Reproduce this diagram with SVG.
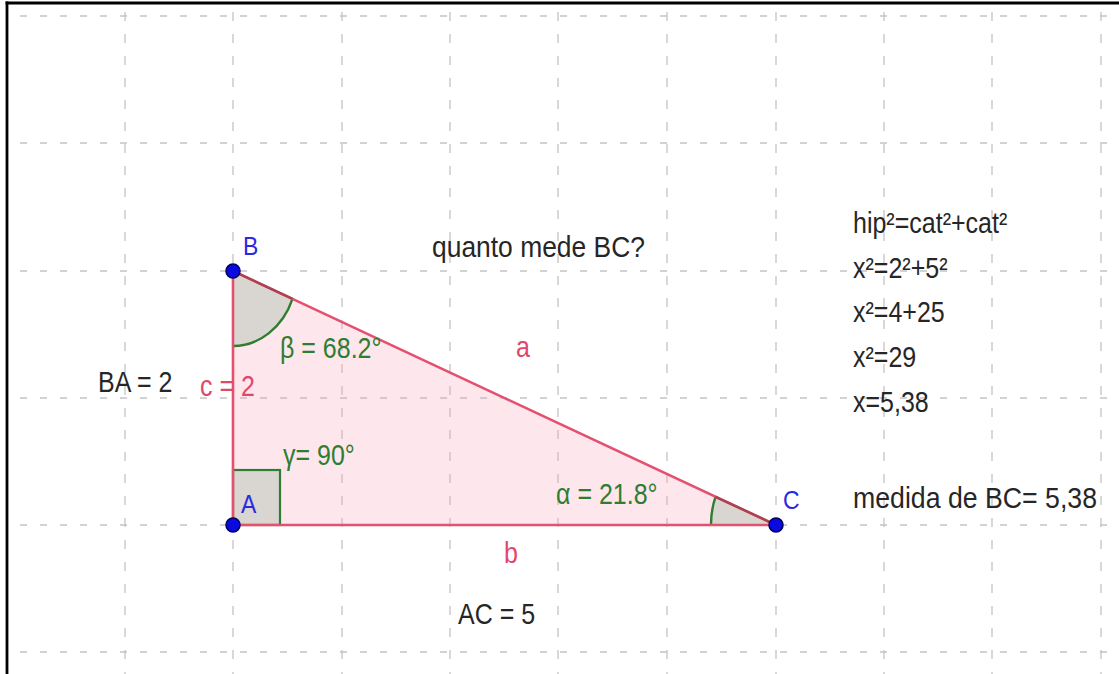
<svg xmlns="http://www.w3.org/2000/svg" width="1119" height="674" viewBox="0 0 1119 674">
<style>
text{font-family:"Liberation Sans",Arial,sans-serif;font-size:25px}
.dark{fill:#262626}
.pink{fill:#e0476c}
.green{fill:#2f7d32}
.blue{fill:#2a2ae0;font-size:23px}
.gh{stroke:#c4c4c4;stroke-width:1.3;stroke-dasharray:7 13;fill:none}
.gv{stroke:#c4c4c4;stroke-width:1.3;stroke-dasharray:9 13;fill:none}
.edge{stroke:#e4506f;stroke-width:2.6;fill:none;stroke-linecap:round}
.sector{fill:#d9d5d0;stroke:none}
.arc{stroke:#2f7d32;stroke-width:2.4;fill:none}
.pt{fill:#0a0ae0;stroke:#00005a;stroke-width:1.5}
</style>
<rect x="0" y="0" width="1119" height="674" fill="#ffffff"/>
<g id="grid">
<line class="gh" x1="20" y1="16" x2="1119" y2="16"/>
<line class="gh" x1="20" y1="143" x2="1119" y2="143"/>
<line class="gh" x1="20" y1="271" x2="1119" y2="271"/>
<line class="gh" x1="20" y1="398" x2="1119" y2="398"/>
<line class="gh" x1="20" y1="525" x2="1119" y2="525"/>
<line class="gh" x1="20" y1="652" x2="1119" y2="652"/>
<line class="gv" x1="125" y1="12" x2="125" y2="674"/>
<line class="gv" x1="233" y1="12" x2="233" y2="674"/>
<line class="gv" x1="342" y1="12" x2="342" y2="674"/>
<line class="gv" x1="450" y1="12" x2="450" y2="674"/>
<line class="gv" x1="558" y1="12" x2="558" y2="674"/>
<line class="gv" x1="667" y1="12" x2="667" y2="674"/>
<line class="gv" x1="776" y1="12" x2="776" y2="674"/>
<line class="gv" x1="884" y1="12" x2="884" y2="674"/>
<line class="gv" x1="992" y1="12" x2="992" y2="674"/>
<line class="gv" x1="1101" y1="12" x2="1101" y2="674"/>
</g>
<g id="frame">
<line x1="7" y1="1.5" x2="7" y2="674" stroke="#000" stroke-width="2.8"/>
<line x1="5.6" y1="3" x2="1119" y2="3" stroke="#000" stroke-width="2.8"/>
</g>
<g id="triangle">
<polygon points="233,271 233,525 776,525" fill="#f7a0b5" fill-opacity="0.25" stroke="none"/>
</g>
<g id="angle-beta">
<path class="sector" d="M233 271 L233 346 A64 75 0 0 0 292.5 298.8 Z"/>
<path class="arc" d="M233 346 A64 75 0 0 0 292.5 298.8"/>
</g>
<g id="angle-alpha">
<path class="sector" d="M776 525 L711 525 A65 76 0 0 1 715.5 496.8 Z"/>
<path class="arc" d="M711 525 A65 76 0 0 1 715.5 496.8"/>
</g>
<g id="angle-gamma">
<rect x="233" y="470" width="47" height="55" fill="#d9d5d0" stroke="#2f7d32" stroke-width="2.2"/>
</g>
<g id="edges">
<line class="edge" x1="233" y1="271" x2="233" y2="525"/>
<line class="edge" x1="233" y1="525" x2="776" y2="525"/>
<line class="edge" x1="233" y1="271" x2="776" y2="525"/>
<line x1="233" y1="271" x2="292.5" y2="298.8" stroke="#a8434f" stroke-width="2.4"/>
<line x1="715.5" y1="496.8" x2="776" y2="525" stroke="#a8434f" stroke-width="2.4"/>
</g>
<g id="point-B">
<circle class="pt" cx="233" cy="271" r="7"/>
<text class="blue" transform="translate(243 255) scale(1 1.15)">B</text>
</g>
<g id="point-A">
<circle class="pt" cx="233" cy="525" r="7"/>
<text class="blue" transform="translate(241 513) scale(1 1.15)">A</text>
</g>
<g id="point-C">
<circle class="pt" cx="776" cy="525" r="7"/>
<text class="blue" transform="translate(783 509) scale(1 1.15)">C</text>
</g>
<g id="labels">
<text class="pink" transform="translate(200 396) scale(1 1.15)">c = 2</text>
<text class="pink" transform="translate(516 357) scale(1 1.15)">a</text>
<text class="pink" transform="translate(504 563) scale(1 1.15)">b</text>
<text class="green" transform="translate(280 358) scale(1 1.15)">β = 68.2°</text>
<text class="green" transform="translate(283 465) scale(1 1.15)">γ= 90°</text>
<text class="green" transform="translate(556 504) scale(1 1.15)">α = 21.8°</text>
<text class="dark" transform="translate(98 392) scale(1 1.15)">BA = 2</text>
<text class="dark" transform="translate(458 624) scale(1 1.15)">AC = 5</text>
<text class="dark" transform="translate(432 257) scale(1 1.15)" textLength="213" lengthAdjust="spacingAndGlyphs">quanto mede BC?</text>
<text class="dark" transform="translate(853 233) scale(1 1.15)">hip²=cat²+cat²</text>
<text class="dark" transform="translate(853 278) scale(1 1.15)">x²=2²+5²</text>
<text class="dark" transform="translate(853 322) scale(1 1.15)">x²=4+25</text>
<text class="dark" transform="translate(853 367) scale(1 1.15)">x²=29</text>
<text class="dark" transform="translate(853 412) scale(1 1.15)">x=5,38</text>
<text class="dark" transform="translate(853 508) scale(1 1.15)" textLength="244" lengthAdjust="spacingAndGlyphs">medida de BC= 5,38</text>
</g>
</svg>
